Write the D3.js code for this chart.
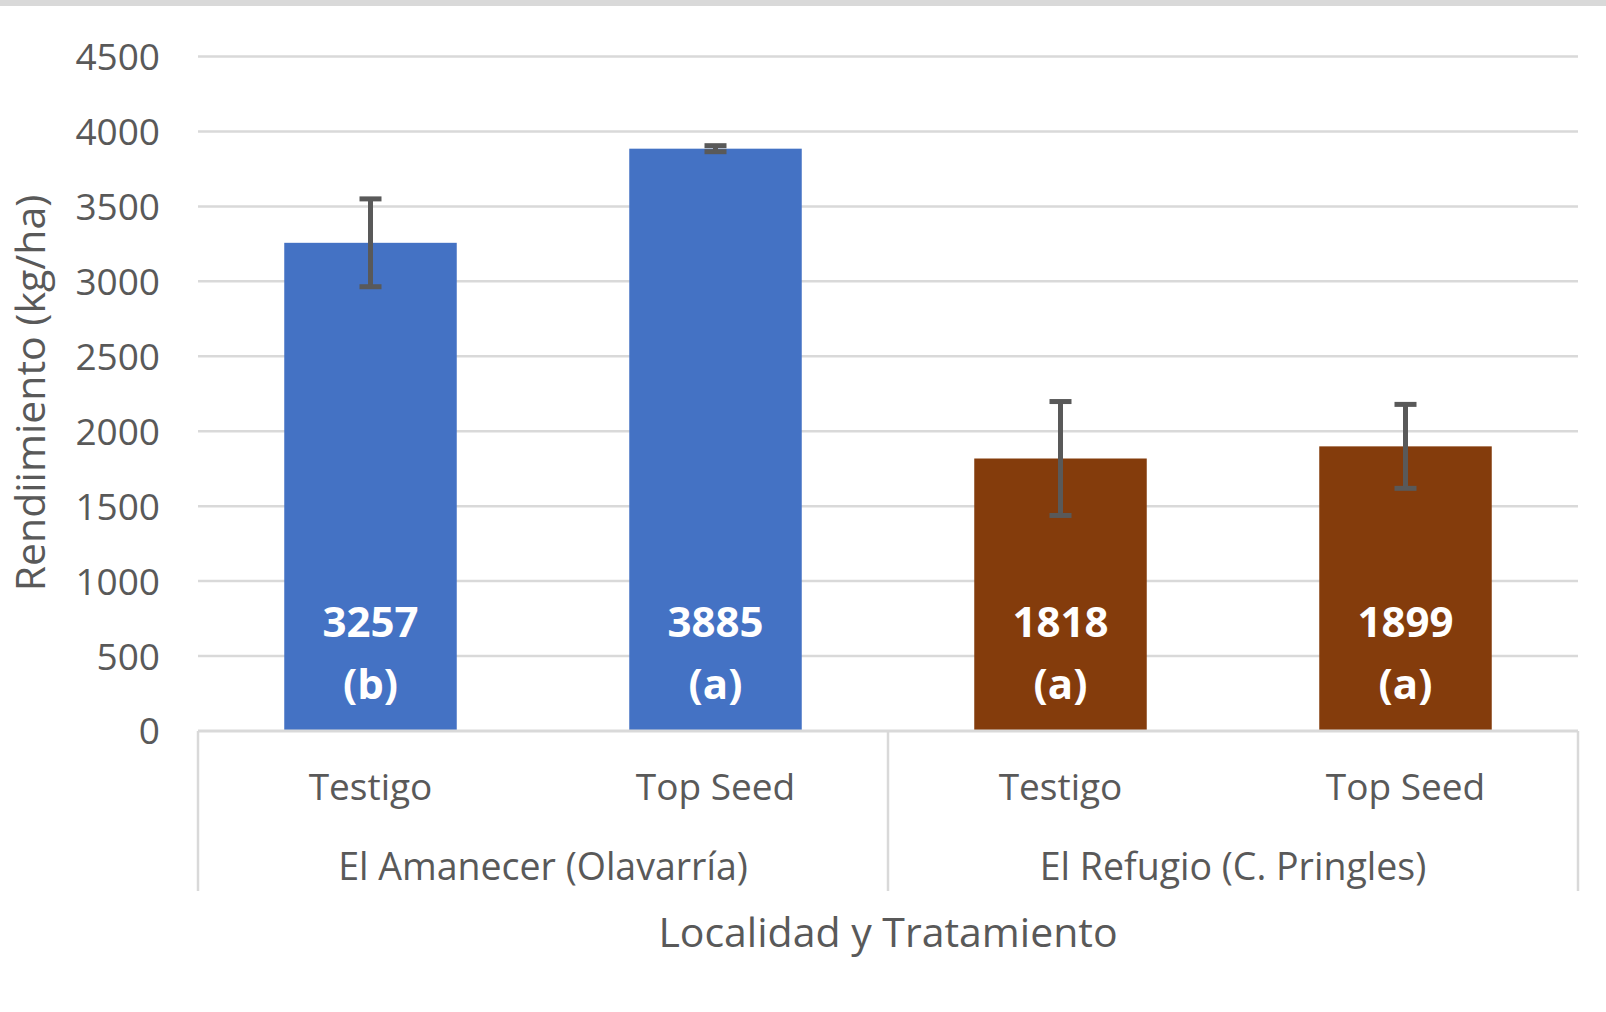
<!DOCTYPE html>
<html><head><meta charset="utf-8">
<script src="https://cdn.jsdelivr.net/npm/d3@7"></script>
<style>html,body{margin:0;padding:0;background:#fff;}svg{display:block;}</style>
</head><body>
<svg id="chart" width="1606" height="1012"></svg>
<script>
const categories = ["Testigo", "Top Seed", "Testigo", "Top Seed"];
const groups = ["El Amanecer (Olavarría)", "El Refugio (C. Pringles)"];
const groupOf = [0, 0, 1, 1];
const values = [3257, 3885, 1818, 1899];
const errors = [293, 20, 380, 280];
const letters = ["(b)", "(a)", "(a)", "(a)"];
const yTicks = [0, 500, 1000, 1500, 2000, 2500, 3000, 3500, 4000, 4500];
const groupColors = ["#4472C4", "#843C0C"];
const yTitle = "Rendiimiento (kg/ha)";
const xTitle = "Localidad y Tratamiento";

(function () {
const svg = d3.select("#chart");
const font = "'Open Sans', 'Noto Sans', sans-serif";
const pLeft = 198, pRight = 1578, pTop = 56.5, pBottom = 731;

svg.append("rect").attr("x",0).attr("y",0).attr("width",1606).attr("height",6).attr("fill","#d9d9d9");

const y = d3.scaleLinear().domain([0, 4500]).range([pBottom, pTop]);
const x = d3.scaleBand().domain(d3.range(categories.length)).range([pLeft, pRight]).paddingInner(0.5).paddingOuter(0.25);

// gridlines
svg.append("g").selectAll("line").data(yTicks.filter(d => d > 0)).join("line")
  .attr("x1", pLeft).attr("x2", pRight)
  .attr("y1", d => y(d)).attr("y2", d => y(d))
  .attr("stroke", "#d9d9d9").attr("stroke-width", 2.5);

// y tick labels
const yAxis = d3.axisLeft(y).tickValues(yTicks).tickFormat(d3.format("d")).tickSize(0).tickPadding(0);
const ya = svg.append("g").attr("transform", "translate(160,0)").call(yAxis);
ya.select(".domain").remove();
ya.selectAll("text").attr("font-family", font).attr("font-size", 37).attr("fill", "#595959").attr("dy", "0.35em");

// bars
svg.append("g").selectAll("rect").data(values).join("rect")
  .attr("x", (d, i) => x(i)).attr("width", x.bandwidth())
  .attr("y", d => y(d)).attr("height", d => y(0) - y(d))
  .attr("fill", (d, i) => groupColors[groupOf[i]]);

// error bars
const eb = svg.append("g").attr("stroke", "#595959").attr("stroke-width", 5);
values.forEach((v, i) => {
  const cx = x(i) + x.bandwidth() / 2;
  const lo = y(v - errors[i]), hi = y(v + errors[i]);
  eb.append("line").attr("x1", cx).attr("x2", cx).attr("y1", lo).attr("y2", hi);
  eb.append("line").attr("x1", cx - 11).attr("x2", cx + 11).attr("y1", lo).attr("y2", lo);
  eb.append("line").attr("x1", cx - 11).attr("x2", cx + 11).attr("y1", hi).attr("y2", hi);
});

// labels in bars
const lab = svg.append("g").attr("font-family", font).attr("font-size", 42).attr("font-weight", "bold")
  .attr("fill", "#ffffff").attr("text-anchor", "middle");
values.forEach((v, i) => {
  const cx = x(i) + x.bandwidth() / 2;
  lab.append("text").attr("x", cx).attr("y", y(0) - 109).attr("dy", "0.35em").text(v);
  lab.append("text").attr("x", cx).attr("y", y(0) - 47).attr("dy", "0.35em").text(letters[i]);
});

// axis line and category box
const boxBottom = 891;
svg.append("line").attr("x1", pLeft).attr("x2", pRight).attr("y1", pBottom).attr("y2", pBottom)
  .attr("stroke", "#d9d9d9").attr("stroke-width", 3);
const sepX = [pLeft, (x(1) + x.bandwidth() + x(2)) / 2, pRight];
svg.append("g").selectAll("line").data(sepX).join("line")
  .attr("x1", d => d).attr("x2", d => d).attr("y1", pBottom).attr("y2", boxBottom)
  .attr("stroke", "#d9d9d9").attr("stroke-width", 2.5);

// category labels
svg.append("g").selectAll("text").data(categories).join("text")
  .attr("x", (d, i) => x(i) + x.bandwidth() / 2).attr("y", 787).attr("dy", "0.35em")
  .attr("text-anchor", "middle").attr("font-family", font).attr("font-size", 37).attr("fill", "#595959")
  .text(d => d);

// group labels
svg.append("g").selectAll("text").data(groups).join("text")
  .attr("x", (d, gi) => (sepX[gi] + sepX[gi + 1]) / 2).attr("y", 867).attr("dy", "0.35em")
  .attr("text-anchor", "middle").attr("font-family", font).attr("font-size", 37.5).attr("fill", "#595959")
  .text(d => d);

// axis titles
svg.append("text").attr("x", (pLeft + pRight) / 2).attr("y", 933).attr("dy", "0.35em")
  .attr("text-anchor", "middle").attr("font-family", font).attr("font-size", 41).attr("fill", "#595959")
  .text(xTitle);
svg.append("text").attr("transform", "translate(31,393) rotate(-90)").attr("dy", "0.35em")
  .attr("text-anchor", "middle").attr("font-family", font).attr("font-size", 41).attr("fill", "#595959")
  .text(yTitle);
})();
</script>
</body></html>
